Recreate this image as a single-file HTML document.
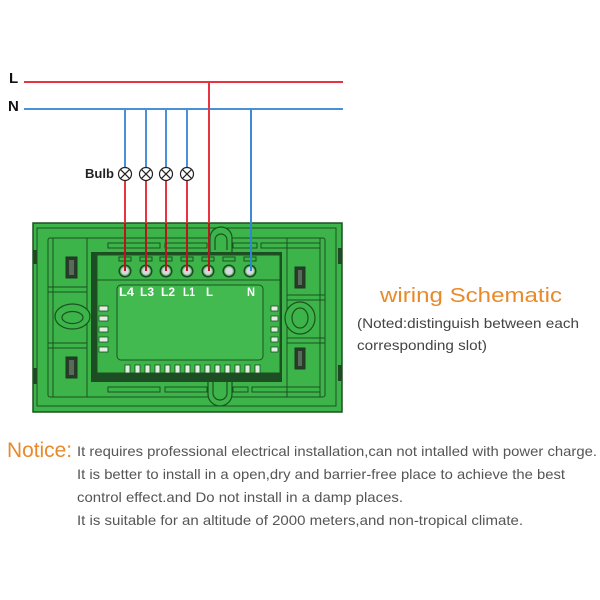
<!DOCTYPE html>
<html><head><meta charset="utf-8"><style>
html,body{margin:0;padding:0;background:#fff;}
svg{display:block;}
text{font-family:"Liberation Sans",sans-serif;}
</style></head><body>
<svg width="600" height="600" viewBox="0 0 600 600" xmlns="http://www.w3.org/2000/svg">
<rect width="600" height="600" fill="#fff"/>

<!-- Panel -->
<g stroke="#1b5220" stroke-width="1" fill="none">
  <rect x="33" y="223" width="309" height="189" fill="#3cb44a" stroke-width="1.5"/>
  <rect x="37" y="228" width="299" height="178"/>
  <rect x="48" y="238" width="277" height="159" rx="2"/>
  <!-- left compartments -->
  <line x1="53" y1="238" x2="53" y2="397"/>
  <line x1="87" y1="238" x2="87" y2="397"/>
  <line x1="48" y1="287" x2="87" y2="287"/>
  <line x1="48" y1="292" x2="87" y2="292"/>
  <line x1="48" y1="343" x2="87" y2="343"/>
  <line x1="48" y1="348" x2="87" y2="348"/>
  <!-- right compartments -->
  <line x1="287" y1="238" x2="287" y2="397"/>
  <line x1="320" y1="238" x2="320" y2="397"/>
  <line x1="287" y1="295" x2="325" y2="295"/>
  <line x1="287" y1="300" x2="325" y2="300"/>
  <line x1="287" y1="338" x2="325" y2="338"/>
  <line x1="287" y1="343" x2="325" y2="343"/>
  <!-- top rails -->
  <rect x="108" y="243" width="52" height="5"/>
  <rect x="165" y="243" width="42" height="5"/>
  <rect x="233" y="243" width="24" height="5"/>
  <rect x="261" y="243" width="59" height="5"/>
  <!-- bottom rails -->
  <rect x="108" y="387" width="52" height="5"/>
  <rect x="165" y="387" width="42" height="5"/>
  <rect x="233" y="387" width="15" height="5"/>
  <rect x="252" y="387" width="68" height="5"/>
</g>
<!-- side notches -->
<rect x="33" y="250" width="4" height="14" fill="#1f4a22"/>
<rect x="33" y="368" width="4" height="16" fill="#1f4a22"/>
<rect x="338" y="248" width="4" height="16" fill="#1f4a22"/>
<rect x="338" y="365" width="4" height="16" fill="#1f4a22"/>

<!-- window -->
<rect x="91" y="252" width="191" height="130" fill="#1d4d22"/>
<rect x="97" y="255" width="183" height="118" fill="#3cb44a" stroke="#1b5220" stroke-width="1"/>
<line x1="97" y1="280" x2="280" y2="280" stroke="#1b5220" stroke-width="1"/>
<rect x="117" y="285" width="146" height="75" rx="4" fill="#42ba50" stroke="#1b5220" stroke-width="1"/>

<!-- top slots over terminals -->
<g fill="#3cb44a" stroke="#1b5220" stroke-width="1">
  <rect x="119" y="257" width="12" height="4"/>
  <rect x="140" y="257" width="12" height="4"/>
  <rect x="160" y="257" width="12" height="4"/>
  <rect x="181" y="257" width="12" height="4"/>
  <rect x="202" y="257" width="12" height="4"/>
  <rect x="223" y="257" width="12" height="4"/>
  <rect x="244" y="257" width="12" height="4"/>
</g>

<!-- left/right tabs -->
<g fill="#e4ece4" stroke="#1b5220" stroke-width="0.8">
  <rect x="99" y="306" width="9" height="5"/>
  <rect x="99" y="316" width="9" height="5"/>
  <rect x="99" y="327" width="9" height="5"/>
  <rect x="99" y="337" width="9" height="5"/>
  <rect x="99" y="347" width="9" height="5"/>
  <rect x="271" y="306" width="7" height="5"/>
  <rect x="271" y="316" width="7" height="5"/>
  <rect x="271" y="327" width="7" height="5"/>
  <rect x="271" y="337" width="7" height="5"/>
  <rect x="271" y="347" width="7" height="5"/>
</g>
<!-- bottom tabs -->
<g fill="#e4ece4" stroke="#1b5220" stroke-width="0.8">
  <rect x="125" y="365" width="5" height="8"/>
  <rect x="135" y="365" width="5" height="8"/>
  <rect x="145" y="365" width="5" height="8"/>
  <rect x="155" y="365" width="5" height="8"/>
  <rect x="165" y="365" width="5" height="8"/>
  <rect x="175" y="365" width="5" height="8"/>
  <rect x="185" y="365" width="5" height="8"/>
  <rect x="195" y="365" width="5" height="8"/>
  <rect x="205" y="365" width="5" height="8"/>
  <rect x="215" y="365" width="5" height="8"/>
  <rect x="225" y="365" width="5" height="8"/>
  <rect x="235" y="365" width="5" height="8"/>
  <rect x="245" y="365" width="5" height="8"/>
  <rect x="255" y="365" width="5" height="8"/>
</g>

<!-- switch slots -->
<g fill="#2a3a2a" stroke="#1b3a1e" stroke-width="1">
  <rect x="66" y="257" width="11" height="21"/>
  <rect x="66" y="357" width="11" height="21"/>
  <rect x="295" y="267" width="10" height="21"/>
  <rect x="295" y="348" width="10" height="21"/>
</g>
<g fill="#5a6a5a">
  <rect x="69" y="260" width="5" height="15"/>
  <rect x="69" y="360" width="5" height="15"/>
  <rect x="298" y="270" width="4" height="15"/>
  <rect x="298" y="351" width="4" height="15"/>
</g>

<!-- ovals -->
<g fill="#3cb44a" stroke="#1b5220" stroke-width="1.2">
  <ellipse cx="72.5" cy="316.5" rx="17.5" ry="12.5"/>
  <ellipse cx="72.5" cy="317.5" rx="10.5" ry="6"/>
  <ellipse cx="300" cy="318" rx="15" ry="16"/>
  <ellipse cx="300" cy="318" rx="8" ry="10"/>
  <path d="M210 252 L210 238 A11 11 0 0 1 232 238 L232 252"/>
  <path d="M215 250 L215 240 A6 6 0 0 1 227 240 L227 250"/>
  <path d="M208 382 L208 394 A12 12 0 0 0 232 394 L232 382"/>
  <path d="M213 382 L213 393 A7 7 0 0 0 227 393 L227 382"/>
</g>

<!-- wires -->
<g stroke-width="2" fill="none">
  <line x1="24" y1="82" x2="343" y2="82" stroke="#e63540"/>
  <line x1="24" y1="109" x2="343" y2="109" stroke="#4a90d9"/>
  <line x1="125" y1="109" x2="125" y2="167" stroke="#4a90d9"/>
  <line x1="146" y1="109" x2="146" y2="167" stroke="#4a90d9"/>
  <line x1="166" y1="109" x2="166" y2="167" stroke="#4a90d9"/>
  <line x1="187" y1="109" x2="187" y2="167" stroke="#4a90d9"/>
  <line x1="251" y1="109" x2="251" y2="271" stroke="#3f8ad6"/>
  <line x1="209" y1="82" x2="209" y2="223" stroke="#e63540"/>
  <line x1="125" y1="181" x2="125" y2="223" stroke="#e63540"/>
  <line x1="146" y1="181" x2="146" y2="223" stroke="#e63540"/>
  <line x1="166" y1="181" x2="166" y2="223" stroke="#e63540"/>
  <line x1="187" y1="181" x2="187" y2="223" stroke="#e63540"/>
</g>

<!-- terminals -->
<g>
  <g fill="#1b4a20"><circle cx="125" cy="271" r="6.5"/><circle cx="146" cy="271" r="6.5"/><circle cx="166" cy="271" r="6.5"/><circle cx="187" cy="271" r="6.5"/><circle cx="208" cy="271" r="6.5"/><circle cx="229" cy="271" r="6.5"/><circle cx="250" cy="271" r="6.5"/></g>
  <g fill="#6cc070"><circle cx="125" cy="271" r="5"/><circle cx="146" cy="271" r="5"/><circle cx="166" cy="271" r="5"/><circle cx="187" cy="271" r="5"/><circle cx="208" cy="271" r="5"/><circle cx="229" cy="271" r="5"/><circle cx="250" cy="271" r="5"/></g>
  <g fill="#d9d6e4"><circle cx="125" cy="271" r="3.8"/><circle cx="146" cy="271" r="3.8"/><circle cx="166" cy="271" r="3.8"/><circle cx="187" cy="271" r="3.8"/><circle cx="208" cy="271" r="3.8"/><circle cx="229" cy="271" r="3.8"/><circle cx="250" cy="271" r="3.8"/></g>
</g>
<!-- wires inside panel -->
<g stroke-width="2" fill="none" stroke="#b8161f">
  <line x1="125" y1="223" x2="125" y2="271"/>
  <line x1="146" y1="223" x2="146" y2="271"/>
  <line x1="166" y1="223" x2="166" y2="271"/>
  <line x1="187" y1="223" x2="187" y2="271"/>
  <line x1="209" y1="223" x2="209" y2="271"/>
</g>
<line x1="251" y1="223" x2="251" y2="271" stroke="#2f86d6" stroke-width="2"/>

<!-- terminal labels -->
<g fill="#fff" font-weight="bold" font-size="12">
  <text x="119" y="296" textLength="15" lengthAdjust="spacingAndGlyphs">L4</text>
  <text x="140" y="296" textLength="14" lengthAdjust="spacingAndGlyphs">L3</text>
  <text x="161" y="296" textLength="14" lengthAdjust="spacingAndGlyphs">L2</text>
  <text x="183" y="296" textLength="12" lengthAdjust="spacingAndGlyphs">L1</text>
  <text x="206" y="296" textLength="7" lengthAdjust="spacingAndGlyphs">L</text>
  <text x="247" y="296" textLength="8" lengthAdjust="spacingAndGlyphs">N</text>
</g>

<!-- bulbs -->
<g stroke="#222" stroke-width="1.2" fill="#fff">
  <circle cx="125" cy="174" r="6.5"/>
  <circle cx="146" cy="174" r="6.5"/>
  <circle cx="166" cy="174" r="6.5"/>
  <circle cx="187" cy="174" r="6.5"/>
</g>
<g stroke="#222" stroke-width="1.2">
  <path d="M120.4 169.4 L129.6 178.6 M129.6 169.4 L120.4 178.6"/>
  <path d="M141.4 169.4 L150.6 178.6 M150.6 169.4 L141.4 178.6"/>
  <path d="M161.4 169.4 L170.6 178.6 M170.6 169.4 L161.4 178.6"/>
  <path d="M182.4 169.4 L191.6 178.6 M191.6 169.4 L182.4 178.6"/>
</g>

<!-- labels -->
<text x="9" y="83" font-size="15" font-weight="bold" fill="#111">L</text>
<text x="8" y="111" font-size="15" font-weight="bold" fill="#111">N</text>
<text x="85" y="178" font-size="13" font-weight="bold" fill="#222" textLength="29" lengthAdjust="spacingAndGlyphs">Bulb</text>

<!-- right text -->
<text x="380" y="302" font-size="20" fill="#e98a2a" textLength="182" lengthAdjust="spacingAndGlyphs">wiring Schematic</text>
<text x="357" y="328" font-size="14" fill="#444" textLength="222" lengthAdjust="spacingAndGlyphs">(Noted:distinguish between each</text>
<text x="357" y="350" font-size="14" fill="#444" textLength="130" lengthAdjust="spacingAndGlyphs">corresponding slot)</text>

<!-- notice -->
<text x="7" y="457" font-size="21" fill="#e98a2a" textLength="65" lengthAdjust="spacingAndGlyphs">Notice:</text>
<g font-size="14" fill="#555">
  <text x="77" y="456" textLength="520" lengthAdjust="spacingAndGlyphs">It requires professional electrical installation,can not intalled with power charge.</text>
  <text x="77" y="479" textLength="488" lengthAdjust="spacingAndGlyphs">It is better to install in a open,dry and barrier-free place to achieve the best</text>
  <text x="77" y="502" textLength="326" lengthAdjust="spacingAndGlyphs">control effect.and Do not install in a damp places.</text>
  <text x="77" y="525" textLength="446" lengthAdjust="spacingAndGlyphs">It is suitable for an altitude of 2000 meters,and non-tropical climate.</text>
</g>
</svg>
</body></html>
